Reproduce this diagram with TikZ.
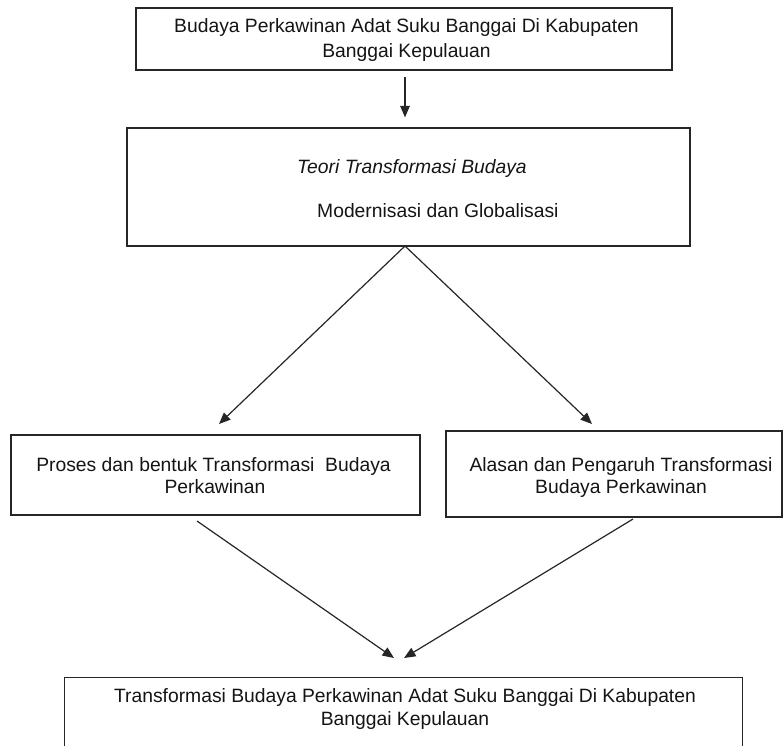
\documentclass[tikz,border=0pt]{standalone}
\usepackage{fontspec}
\setmainfont{Liberation Sans}
\usetikzlibrary{arrows.meta}
\begin{document}
\begin{tikzpicture}[x=1pt,y=-1pt,
  txt/.style={font=\fontsize{19.3}{23}\selectfont, inner sep=0pt, anchor=base, text=black!92},
  box/.style={draw=black!85, line width=1.2pt, inner sep=0pt},
  boxline/.style={draw=black!85, line width=1.2pt},
  arr/.style={draw=black!85, line width=1.2pt, -{Triangle[length=11.5pt,width=9.5pt]}}]
\useasboundingbox (0,0) rectangle (784,745);

% boxes
\node[box, minimum width=536pt, minimum height=62pt] (top) at (404,39) {};
\node[box, minimum width=563pt, minimum height=118pt] (theory) at (408.5,187) {};
\node[box, minimum width=409pt, minimum height=80pt] (left) at (215.5,475) {};
\node[box, minimum width=336pt, minimum height=86pt] (right) at (614,474) {};
\node[minimum width=677pt, minimum height=69pt, inner sep=0pt] (bottom) at (403.5,712.5) {};
\draw[boxline] (bottom.south west) |- (bottom.north east) -- (bottom.south east);

% texts
\node[txt] (t1a) at (406.5,32) {Budaya Perkawinan Adat Suku Banggai Di Kabupaten};
\node[txt] (t1b) at (406.5,57) {Banggai Kepulauan};
\node[txt, anchor=base west] (t2a) at (297,173) {\itshape Teori Transformasi Budaya};
\node[txt, anchor=base west] (t2b) at (317,217) {Modernisasi dan Globalisasi};
\node[txt] (t3a) at (213.5,471) {Proses dan bentuk Transformasi\ \ Budaya};
\node[txt] (t3b) at (215,493) {Perkawinan};
\node[txt] (t4a) at (621,471) {Alasan dan Pengaruh Transformasi};
\node[txt] (t4b) at (621,493) {Budaya Perkawinan};
\node[txt] (t5a) at (405,702) {Transformasi Budaya Perkawinan Adat Suku Banggai Di Kabupaten};
\node[txt] (t5b) at (405,725) {Banggai Kepulauan};

% connector points
\coordinate (split) at (405,246);
\coordinate (tipL) at (219,424);
\coordinate (tipR) at (592,424);
\coordinate (fromL) at (197,521);
\coordinate (fromR) at (633,519);
\coordinate (tipBL) at (394,658);
\coordinate (tipBR) at (404,658);

% connectors
\draw[arr, shorten <=6pt, shorten >=10pt] (top.south -| split) -- (theory.north -| split);
\draw[arr] (split) -- (tipL);
\draw[arr] (split) -- (tipR);
\draw[arr] (fromL) -- (tipBL);
\draw[arr] (fromR) -- (tipBR);
\end{tikzpicture}
\end{document}
